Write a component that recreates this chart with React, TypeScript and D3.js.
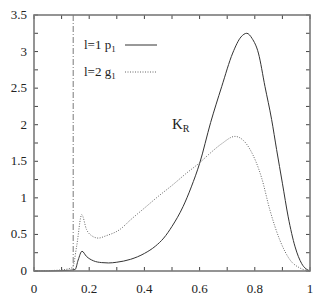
import React, { useRef, useEffect } from "react";
import * as d3 from "d3";

// l=1 p1 (solid)
const solidX = [0, 0.05, 0.1, 0.13, 0.149, 0.16, 0.174, 0.19, 0.215, 0.245, 0.27, 0.3, 0.35, 0.4, 0.44, 0.47, 0.5, 0.54, 0.57, 0.6, 0.64, 0.68, 0.72, 0.75, 0.771, 0.79, 0.813, 0.837, 0.861, 0.879, 0.9, 0.921, 0.946, 0.97, 1.0];
const solidY = [0, 0, 0.005, 0.01, 0.02, 0.15, 0.27, 0.2, 0.14, 0.115, 0.11, 0.12, 0.16, 0.24, 0.34, 0.45, 0.61, 0.88, 1.15, 1.47, 2.03, 2.52, 2.98, 3.2, 3.25, 3.18, 2.98, 2.52, 2.07, 1.66, 1.2, 0.74, 0.33, 0.1, 0];

// l=2 g1 (dotted)
const dotX = [0, 0.05, 0.1, 0.125, 0.14, 0.155, 0.173, 0.19, 0.21, 0.233, 0.26, 0.312, 0.35, 0.4, 0.45, 0.5, 0.55, 0.6, 0.638, 0.68, 0.728, 0.76, 0.783, 0.825, 0.855, 0.891, 0.928, 0.964, 1.0];
const dotY = [0, 0.005, 0.015, 0.03, 0.05, 0.35, 0.77, 0.57, 0.48, 0.45, 0.48, 0.57, 0.7, 0.86, 1.02, 1.17, 1.33, 1.48, 1.61, 1.74, 1.84, 1.78, 1.66, 1.27, 0.83, 0.42, 0.15, 0.04, 0];

const xTickLabels = [0, 0.2, 0.4, 0.6, 0.8, 1];
const yTickLabels = [0, 0.5, 1, 1.5, 2, 2.5, 3, 3.5];
const thresholdX = 0.142;

const W = 327;
const H = 300;
const M = { l: 34, r: 17, t: 15, b: 29 };
const FONT = "Liberation Serif, DejaVu Serif, Times New Roman, serif";

export default function App() {
  const svgRef = useRef<SVGSVGElement | null>(null);

  useEffect(() => {
    const svg = svgRef.current;
    if (!svg) return;
    const sel = d3.select(svg);
    sel.selectAll("*").remove();

    const x = d3.scaleLinear().domain([0, 1]).range([M.l, W - M.r]);
    const y = d3.scaleLinear().domain([0, 3.5]).range([H - M.b, M.t]);

    const axisCol = "#7a7a7a";

    // ticks (inward, mirrored)
    const xt = d3.range(0, 1.0001, 0.1);
    const yt = d3.range(0, 3.5001, 0.25);
    const tl = 4;
    const tg = sel.append("g").attr("stroke", "#444").attr("stroke-width", 1);
    xt.forEach((v) => {
      tg.append("line").attr("x1", x(v)).attr("x2", x(v)).attr("y1", y(0)).attr("y2", y(0) - tl);
      tg.append("line").attr("x1", x(v)).attr("x2", x(v)).attr("y1", y(3.5)).attr("y2", y(3.5) + tl);
    });
    yt.forEach((v) => {
      tg.append("line").attr("x1", x(0)).attr("x2", x(0) + tl).attr("y1", y(v)).attr("y2", y(v));
      tg.append("line").attr("x1", x(1)).attr("x2", x(1) - tl).attr("y1", y(v)).attr("y2", y(v));
    });

    // threshold line
    sel
      .append("line")
      .attr("x1", x(thresholdX))
      .attr("x2", x(thresholdX))
      .attr("y1", y(3.5))
      .attr("y2", y(0))
      .attr("stroke", "#555")
      .attr("stroke-width", 0.8)
      .attr("stroke-dasharray", "6,2,1,2");

    const line = d3
      .line<[number, number]>()
      .x((d) => x(d[0]))
      .y((d) => y(d[1]))
      .curve(d3.curveMonotoneX);

    sel
      .append("path")
      .attr("d", line(solidX.map((v, i) => [v, solidY[i]] as [number, number])) || "")
      .attr("fill", "none")
      .attr("stroke", "#333")
      .attr("stroke-width", 1);

    sel
      .append("path")
      .attr("d", line(dotX.map((v, i) => [v, dotY[i]] as [number, number])) || "")
      .attr("fill", "none")
      .attr("stroke", "#666")
      .attr("stroke-width", 1)
      .attr("stroke-dasharray", "1,1.5");

    // border
    sel
      .append("rect")
      .attr("x", x(0))
      .attr("y", y(3.5))
      .attr("width", x(1) - x(0))
      .attr("height", y(0) - y(3.5))
      .attr("fill", "none")
      .attr("stroke", axisCol)
      .attr("stroke-width", 1.6);

    // tick labels
    sel
      .append("g")
      .selectAll("text")
      .data(xTickLabels)
      .enter()
      .append("text")
      .attr("x", (d) => x(d))
      .attr("y", y(0) + 22)
      .attr("text-anchor", "middle")
      .style("font-family", FONT)
      .attr("font-size", 13)
      .attr("fill", "#222")
      .text((d) => String(d));

    sel
      .append("g")
      .selectAll("text")
      .data(yTickLabels)
      .enter()
      .append("text")
      .attr("x", x(0) - 7)
      .attr("y", (d) => y(d) + 4)
      .attr("text-anchor", "end")
      .style("font-family", FONT)
      .attr("font-size", 13)
      .attr("fill", "#222")
      .text((d) => String(d));

    // legend
    const leg = [
      { lab: "l=1 p", sub: "1", dash: null as string | null, col: "#333", yy: 45 },
      { lab: "l=2 g", sub: "1", dash: "1,1.5", col: "#666", yy: 72 },
    ];
    leg.forEach((l) => {
      const t = sel
        .append("text")
        .attr("x", 84)
        .attr("y", l.yy + 4)
        .style("font-family", FONT)
        .attr("font-size", 13)
        .attr("fill", "#222");
      t.append("tspan").text(l.lab);
      t.append("tspan").attr("font-size", 9).attr("dy", 3).text(l.sub);
      const ln = sel
        .append("line")
        .attr("x1", 125)
        .attr("x2", 157)
        .attr("y1", l.yy)
        .attr("y2", l.yy)
        .attr("stroke", l.col)
        .attr("stroke-width", 1);
      if (l.dash) ln.attr("stroke-dasharray", l.dash);
    });

    const kr = sel
      .append("text")
      .attr("x", 172)
      .attr("y", 129)
      .style("font-family", FONT)
      .attr("font-size", 15)
      .attr("fill", "#222");
    kr.append("tspan").text("K");
    kr.append("tspan").attr("font-size", 10).attr("dy", 3).text("R");
  }, []);

  return (
    <svg
      ref={svgRef}
      width={W}
      height={H}
      style={{ position: "fixed", left: 0, top: 0, background: "#fff" }}
    />
  );
}
